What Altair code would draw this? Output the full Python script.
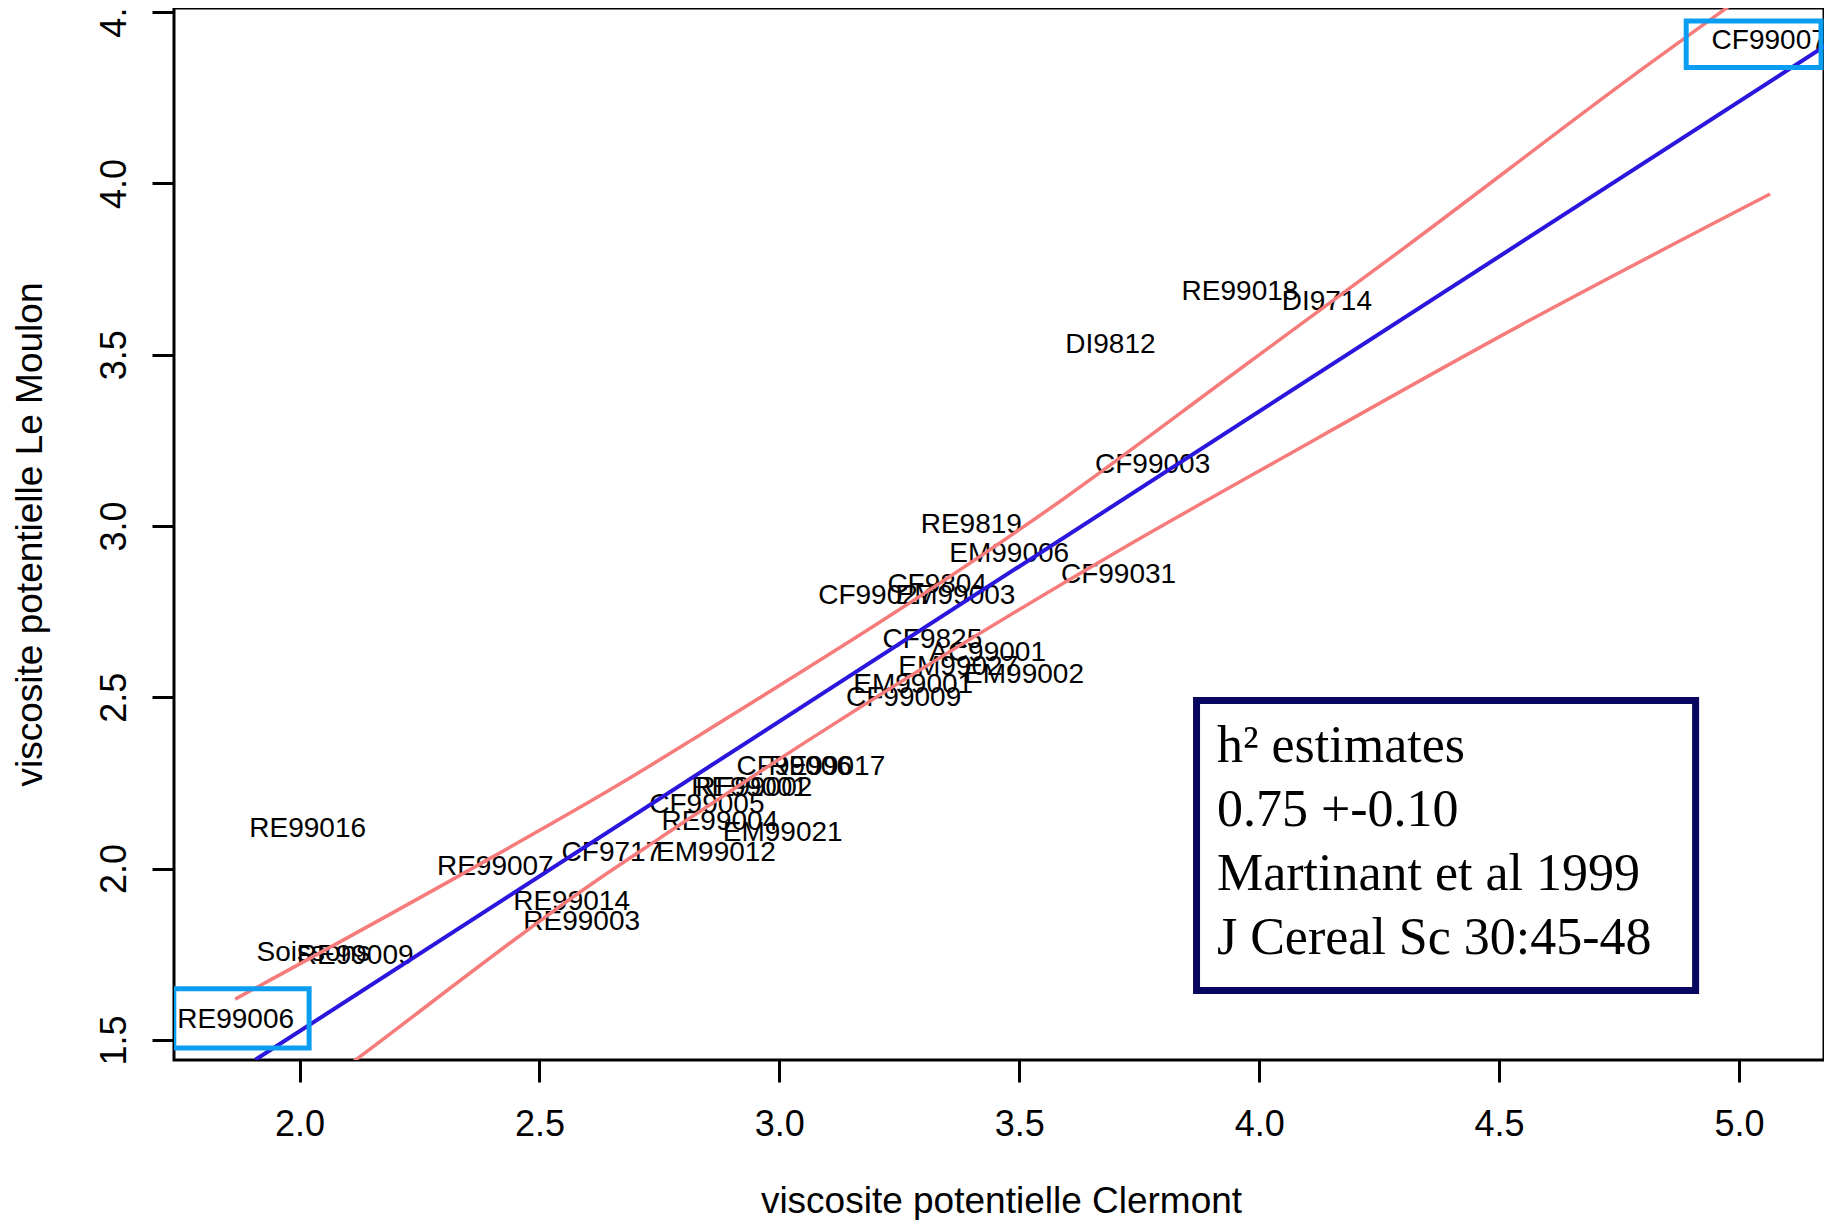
import altair as alt
import pandas as pd

# ---- data ----
labels = ["CF99007", "RE99018", "DI9714", "DI9812", "CF99003", "RE9819", "EM99006",
          "CF99031", "CF9804", "CF99027", "EM99003", "CF9825", "AC99001", "EM99027",
          "EM99002", "EM99001", "CF99009", "CF99006", "RE99017", "RE99001", "RE99002",
          "CF99005", "RE99004", "EM99021", "CF9717", "EM99012", "RE99016", "RE99007",
          "RE99014", "RE99003", "Soissons", "RE99009", "RE99006"]
clermont = [5.063, 3.960, 4.141, 3.690, 3.778, 3.400, 3.479,
            3.707, 3.329, 3.201, 3.367, 3.319, 3.434, 3.373,
            3.510, 3.279, 3.259, 3.031, 3.099, 2.938, 2.947,
            2.849, 2.876, 3.007, 2.650, 2.868, 2.017, 2.408,
            2.567, 2.588, 2.029, 2.116, 1.867]
moulon = [4.416, 3.684, 3.655, 3.528, 3.178, 3.003, 2.917,
          2.858, 2.828, 2.797, 2.797, 2.667, 2.629, 2.589,
          2.565, 2.536, 2.497, 2.297, 2.297, 2.234, 2.236,
          2.186, 2.137, 2.105, 2.045, 2.045, 2.115, 2.006,
          1.903, 1.845, 1.755, 1.746, 1.558]

fit_x = [1.908, 5.186]
fit_y = [1.442, 4.407]

upper_x = [1.866, 2.335, 2.682, 2.817, 3.589, 3.950, 4.297, 4.815, 4.978]
upper_y = [1.619, 1.981, 2.259, 2.375, 3.076, 3.448, 3.806, 4.351, 4.516]

lower_x = [2.106, 2.126, 2.626, 2.751, 3.061, 3.710, 4.050, 4.550, 5.065]
lower_y = [1.430, 1.451, 1.972, 2.089, 2.375, 2.930, 3.200, 3.590, 3.969]

box_names = ["RE99006", "CF99007"]
box_x1 = [1.738, 4.890]
box_x2 = [2.020, 5.171]
box_y1 = [1.476, 4.338]
box_y2 = [1.649, 4.474]

note_lines = ["h² estimates", "0.75 +-0.10", "Martinant et al 1999", "J Cereal Sc 30:45-48"]
note_x = [3.912, 3.912, 3.912, 3.912]
note_y = [2.311, 2.124, 1.9375, 1.751]
note_box_x = [3.8695]
note_box_x2 = [4.9096]
note_box_y = [1.6442]
note_box_y2 = [2.4907]

x_ticks = [2.0, 2.5, 3.0, 3.5, 4.0, 4.5, 5.0]
y_ticks = [1.5, 2.0, 2.5, 3.0, 3.5, 4.0, 4.5]
x_domain = [1.7384, 5.1772]
y_domain = [1.4413, 4.512]

# ---- tables ----
pts = pd.DataFrame({"label": labels, "x": clermont, "y": moulon})
fit = pd.DataFrame({"x": fit_x, "y": fit_y})
upper = pd.DataFrame({"x": upper_x, "y": upper_y})
lower = pd.DataFrame({"x": lower_x, "y": lower_y})
boxes = pd.DataFrame({"name": box_names, "x": box_x1, "x2": box_x2, "y": box_y1, "y2": box_y2})
notes = pd.DataFrame({"t": note_lines, "x": note_x, "y": note_y})
nbox = pd.DataFrame({"x": note_box_x, "x2": note_box_x2, "y": note_box_y, "y2": note_box_y2})

FONT = "Liberation Sans"
W, H = 1650, 1052

xscale = alt.Scale(domain=x_domain, nice=False, zero=False)
yscale = alt.Scale(domain=y_domain, nice=False, zero=False)

xaxis = alt.Axis(values=x_ticks, format=".1f", title="viscosite potentielle Clermont",
                 grid=False, domain=False, ticks=True, tickSize=22, tickWidth=3,
                 tickColor="black", labelFont=FONT, labelFontSize=36, labelColor="black",
                 labelPadding=53, labelBaseline="alphabetic", labelFlush=False,
                 labelOverlap=False, titleFont=FONT, titleFontSize=37,
                 titleFontWeight="normal", titleColor="black", titleX=827, titleY=152,
                 titleBaseline="alphabetic", titleAlign="center")
yaxis = alt.Axis(values=y_ticks, format=".1f", title="viscosite potentielle Le Moulon",
                 grid=False, domain=False, ticks=True, tickSize=22, tickWidth=3,
                 tickColor="black", labelFont=FONT, labelFontSize=36, labelColor="black",
                 labelAngle=270, labelAlign="center", labelBaseline="alphabetic",
                 labelPadding=27, labelFlush=False, labelOverlap=False,
                 titleFont=FONT, titleFontSize=37, titleFontWeight="normal",
                 titleColor="black", titleAngle=270, titleX=-133, titleY=526,
                 titleAlign="center", titleBaseline="alphabetic")

text_layer = alt.Chart(pts).mark_text(
    font=FONT, fontSize=28, color="black", align="center", baseline="middle", clip=True
).encode(
    x=alt.X("x:Q", scale=xscale, axis=xaxis),
    y=alt.Y("y:Q", scale=yscale, axis=yaxis),
    text="label:N",
)

fit_layer = alt.Chart(fit).mark_line(color="#2a16dc", strokeWidth=4, clip=True).encode(
    x=alt.X("x:Q", scale=xscale), y=alt.Y("y:Q", scale=yscale))
upper_layer = alt.Chart(upper).mark_line(color="#f67c7c", strokeWidth=3.5, clip=True,
                                         interpolate="monotone").encode(
    x=alt.X("x:Q", scale=xscale), y=alt.Y("y:Q", scale=yscale))
lower_layer = alt.Chart(lower).mark_line(color="#f67c7c", strokeWidth=3.5, clip=True,
                                         interpolate="monotone").encode(
    x=alt.X("x:Q", scale=xscale), y=alt.Y("y:Q", scale=yscale))

box_layer = alt.Chart(boxes).mark_rect(filled=False, stroke="#0a9df2", strokeWidth=5,
                                       clip=True).encode(
    x=alt.X("x:Q", scale=xscale), x2="x2:Q",
    y=alt.Y("y:Q", scale=yscale), y2="y2:Q")

note_box = alt.Chart(nbox).mark_rect(fill="white", stroke="#07075f", strokeWidth=7).encode(
    x=alt.X("x:Q", scale=xscale), x2="x2:Q",
    y=alt.Y("y:Q", scale=yscale), y2="y2:Q")

note_text = alt.Chart(notes).mark_text(
    font="Liberation Serif", fontSize=52, color="black", align="left", baseline="alphabetic"
).encode(
    x=alt.X("x:Q", scale=xscale), y=alt.Y("y:Q", scale=yscale), text="t:N")

chart = alt.layer(
    text_layer, fit_layer, upper_layer, lower_layer, box_layer, note_box, note_text
).properties(
    width=W, height=H,
    autosize=alt.AutoSizeParams(type="none"),
    padding={"left": 166, "top": 0, "right": 0, "bottom": 160},
    background="white",
).configure_view(
    stroke="black", strokeWidth=3
)

chart.save("out.html", embed_options={"renderer": "svg", "actions": False})
